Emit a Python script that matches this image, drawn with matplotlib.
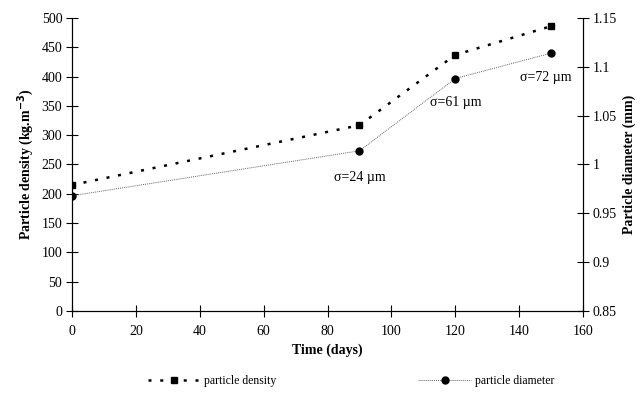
import matplotlib.pyplot as plt

plt.rcParams['font.family'] = ['Liberation Serif', 'DejaVu Serif']

days = [0, 90, 120, 150]
density = [215, 317, 437, 486]
diameter = [0.968, 1.014, 1.088, 1.114]
sigma_labels = ['σ=24 µm', 'σ=61 µm', 'σ=72 µm']

fig = plt.figure(figsize=(6.44, 3.98), dpi=100)
ax = fig.add_axes([0.1118, 0.2186, 0.7935, 0.7362])
ax2 = ax.twinx()

l1, = ax.plot(days, density, color='black', linestyle=(0, (1.2, 3.5)), linewidth=1.8,
              marker='s', markersize=4.5, label='particle density')
l2, = ax2.plot(days, diameter, color='#666666', linestyle=(0, (1, 1)), linewidth=0.7,
               marker='o', markersize=5, markerfacecolor='black', markeredgecolor='black',
               label='particle diameter')

ax.set_xlim(0, 160)
ax.set_ylim(0, 500)
ax2.set_ylim(0.85, 1.15)
ax.set_xticks(range(0, 161, 20))
ax.set_yticks(range(0, 501, 50))
ax2.set_yticks([0.85, 0.9, 0.95, 1.0, 1.05, 1.1, 1.15])
ax2.set_yticklabels(['0.85', '0.9', '0.95', '1', '1.05', '1.1', '1.15'])

for a in (ax, ax2):
    a.spines['top'].set_visible(False)
    a.tick_params(direction='inout', length=8, width=0.8, labelsize=10)
ax.tick_params(axis='x', pad=6)
ax.tick_params(axis='y', pad=3)
ax2.tick_params(axis='y', pad=3)

ax.set_xlabel('Time (days)', fontweight='bold', fontsize=10)
ax.set_ylabel('Particle density (kg.m$^{\\mathbf{-3}}$)', fontweight='bold', fontsize=10)
ax2.set_ylabel('Particle diameter (mm)', fontweight='bold', fontsize=10)

# sigma annotations under the diameter points
ax2.annotate(sigma_labels[0], (days[1], diameter[1]), xytext=(0, -22),
             textcoords='offset points', ha='center', fontsize=10)
ax2.annotate(sigma_labels[1], (days[2], diameter[2]), xytext=(0, -20),
             textcoords='offset points', ha='center', fontsize=10)
ax2.annotate(sigma_labels[2], (days[3], diameter[3]), xytext=(-4, -20),
             textcoords='offset points', ha='center', fontsize=10)

fig.legend(handles=[l1, l2], loc='lower center', bbox_to_anchor=(0.545, 0.0), ncol=2,
           frameon=False, fontsize=8.5, handlelength=4.5, handletextpad=0.3,
           columnspacing=12)

fig.savefig('out.png', dpi=100)
